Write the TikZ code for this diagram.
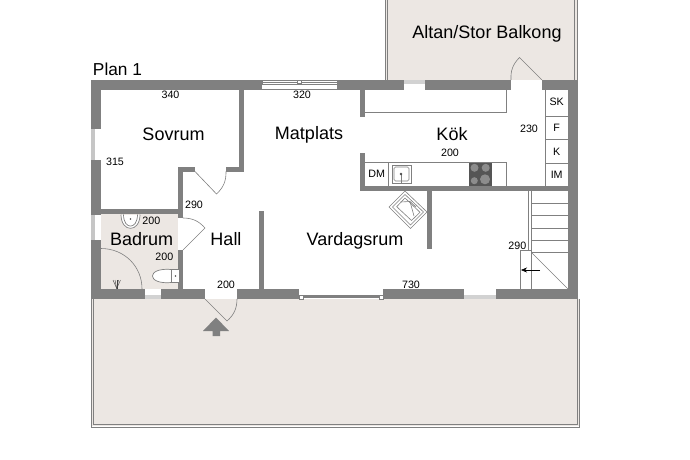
\documentclass[tikz,border=0pt]{standalone}
\usepackage{fontspec}
\setmainfont{Liberation Sans}
\usetikzlibrary{arrows.meta}
\definecolor{wallgray}{HTML}{808080}
\definecolor{floorbeige}{HTML}{ECE7E3}
\definecolor{hobgray}{HTML}{555555}
\definecolor{thingray}{HTML}{808080}
\tikzset{
	room/.style={inner sep=0pt, anchor=base, font=\fontsize{18}{20}\selectfont},
	dim/.style={inner sep=0pt, anchor=base, font=\fontsize{10.7}{12}\selectfont},
	thin line/.style={draw=thingray, line width=0.6pt},
	fixture/.style={draw=thingray, line width=0.7pt, fill=white},
}
\begin{document}
\begin{tikzpicture}[x=1pt, y=-1pt]
	\useasboundingbox (0,0) rectangle (690,460);
	% terraces
	\fill[floorbeige] (92,299) rectangle (579,426);
	\fill[floorbeige] (386,0) rectangle (577,80);
	\draw[thin line] (91,299) -- (91,427) -- (579.5,427) -- (579.5,299);
	\draw[thin line] (93.5,299) -- (93.5,424.5) -- (577,424.5) -- (577,299);
	\draw[thin line] (385,0) -- (385,80);
	\draw[thin line] (387.5,0) -- (387.5,80);
	\draw[thin line] (577,0) -- (577,80);
	\draw[thin line] (574.5,0) -- (574.5,80);
	% bathroom floor
	\fill[floorbeige] (101,214) rectangle (178,289);
	% walls
	\foreach \xa/\ya/\xb/\yb in {91/80/262/90, 337/80/404/90, 425/80/511/90, 542/80/578/90,
			91/80/101/129, 91/160/101/215, 91/240/101/299, 568/80/578/299,
			91/289/145/299, 161/289/205/299, 237/289/299/299, 383/289/464/299, 496/289/578/299,
			239/90/244/171.5, 226/167/244/171.5, 178/167/195/171.5, 178/167/183/218, 178/250/183/289,
			91/208.5/183/214, 259/211/264/289,
			360/90/365/117, 360/153/365/190.5, 360/186/568/190.5, 427/186/432/249}
		\fill[wallgray] (\xa,\ya) rectangle (\xb,\yb);
	% windows
	\fill[gray!45] (91,129) rectangle (95,160);
	\fill[gray!45] (91,215) rectangle (95,240);
	\draw[thin line] (262,80.5) rectangle (337,84);
	\draw[thin line] (262,82) -- (337,82);
	\fill[white, draw=thingray, line width=0.4pt] (297.5,80.5) rectangle (301,83.5);
	\draw[thin line] (262,89.5) -- (337,89.5);
	\fill[gray!35] (404,80) rectangle (425,84);
	\fill[gray!35] (145,295) rectangle (161,299);
	\fill[gray!35] (464,295) rectangle (496,299);
	\fill[wallgray] (303,295) rectangle (379,298);
	\draw[thin line] (299,295) rectangle (303,299);
	\draw[thin line] (379,295) rectangle (383,299);
	% doors
	\draw[thin line] (195,171.5) -- (216.5,194) to[bend right=24] (226,171.5);
	\draw[thin line] (183,250) -- (205,228) to[bend right=24] (183,218);
	\draw[thin line] (205,299) -- (227,321) to[bend right=24] (237,299);
	\draw[thin line] (542,80) -- (519.5,57.5) to[bend right=24] (511,80);
	\draw[thin line] (101,248.5) .. controls (124,248.5) and (142,266) .. (142,289);
	\fill[wallgray] (216,317.5) -- (229,331) -- (220,331) -- (220,336) -- (212.5,336) -- (212.5,331) -- (203,331) -- cycle;
	% kitchen
	\draw[thin line] (365,112) -- (506.5,112) -- (506.5,90);
	\draw[thin line] (365,162) -- (506.5,162) -- (506.5,186);
	\draw[thin line] (388.5,162) -- (388.5,186);
	\draw[thin line] (392,165) rectangle (411,183);
	\draw[thin line, rounded corners=1.5pt] (394,167) rectangle (409,181);
	\draw[thin line] (401,174) -- (401,183);
	\fill[black!70] (401,174) circle (1.3);
	\fill[hobgray] (469,163) rectangle (492,186);
	\foreach \cx/\cy/\cr in {474.5/167.8/4, 485.7/167.8/4, 474.3/180.7/3.5, 485/179.3/5}
		\fill[black!45] (\cx,\cy) circle (\cr);
	\draw[thin line] (545,90) -- (545,186);
	\foreach \ya in {116.7, 139.3, 163.3}
		\draw[thin line] (545,\ya) -- (568,\ya);
	% armchair
	\draw[thin line, fill=white] (405,191) -- (427,212) -- (410.5,228.5) -- (389,207) -- cycle;
	\draw[thin line] (405,194.5) -- (423.5,212) -- (410.5,225) -- (392.5,207) -- cycle;
	\draw[thin line] (405,198) -- (420,212.3) -- (411.5,220.5) -- (396.7,206.7) -- cycle;
	\draw[thin line] (400.5,202) -- (410,201.5) -- (414,216);
	\draw[thin line] (410,201.5) -- (416,207);
	% stairs
	\draw[thin line] (528.7,191) -- (528.7,250.7);
	\draw[thin line] (531.7,191) -- (531.7,289);
	\foreach \ya in {203.3, 215.7, 228.3, 240.7, 252.7}
		\draw[thin line] (531.7,\ya) -- (568,\ya);
	\draw[thin line] (531.7,252.7) -- (568,289);
	\draw[thin line] (520,289) -- (520,250.7) -- (531.7,250.7);
	\draw[-{Stealth[length=6pt, width=5pt]}, line width=0.5pt] (540,270) -- (521,270);
	% bathroom
	\draw[fixture] (121,214.5) .. controls (121,233) and (140,233) .. (140,214.5);
	\draw[fixture] (123.5,214.5) .. controls (123.5,230) and (137.5,230) .. (137.5,214.5);
	\fill[black!70] (130.5,219) circle (0.9);
	\draw[fixture] (171.7,269.5) .. controls (146,267) and (146,285) .. (171.7,282.5) -- cycle;
	\draw[fixture] (171.7,269.3) rectangle (179,282.7);
	\fill[black!70] (175.5,276) circle (0.8);
	\foreach \xa in {113,115,116.7,118.5,120.5}
		\draw[black!75, line width=0.4pt] (116.7,288.5) -- (\xa,280);
	% labels
	\node[room, font=\fontsize{17.3}{20}\selectfont] (plan) at (117.5,75) {Plan 1};
	\node[room] (altan) at (487,39) {Altan/Stor Balkong};
	\node[room] (sovrum) at (173.5,140) {Sovrum};
	\node[room] (matplats) at (309,139.5) {Matplats};
	\node[room] (kok) at (452,140) {Kök};
	\node[room] (badrum) at (141.7,245) {Badrum};
	\node[room] (hall) at (226,245) {Hall};
	\node[room] (vardagsrum) at (355,245.5) {Vardagsrum};
	\node[dim] (d340) at (170.5,98.3) {340};
	\node[dim] (d320) at (302,98.3) {320};
	\node[dim] (dkok) at (450,156) {200};
	\node[dim] (d230) at (529,132.7) {230};
	\node[dim] (d315) at (115,165) {315};
	\node[dim] (dhall) at (194,208) {290};
	\node[dim] (dbada) at (151.3,224.3) {200};
	\node[dim] (dbadb) at (164.3,260.7) {200};
	\node[dim] (dhallb) at (226,288.7) {200};
	\node[dim] (d730) at (411,288.3) {730};
	\node[dim] (dstair) at (517.3,249) {290};
	\node[dim] (sk) at (556.7,105) {SK};
	\node[dim] (f) at (556.7,131.7) {F};
	\node[dim] (k) at (556.7,155) {K};
	\node[dim] (im) at (556.7,178.3) {IM};
	\node[dim] (dm) at (376.7,177.3) {DM};
\end{tikzpicture}
\end{document}
